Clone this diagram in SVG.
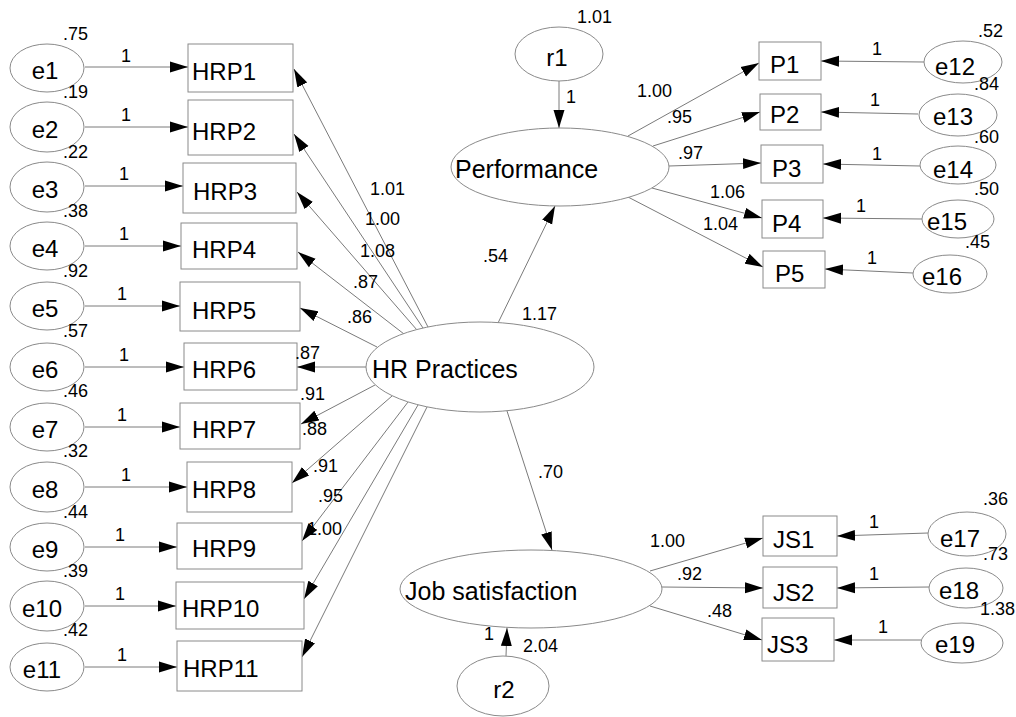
<svg xmlns="http://www.w3.org/2000/svg" width="1016" height="717" viewBox="0 0 1016 717">
<style>
.nd{fill:#fff;stroke:#8a8a8a;stroke-width:1}
.t{font-family:"Liberation Sans",Arial,sans-serif;font-size:24px;fill:#000}
.tb{font-family:"Liberation Sans",Arial,sans-serif;font-size:25px;fill:#000}
.n{font-family:"Liberation Sans",Arial,sans-serif;font-size:18px;fill:#000}
.m{text-anchor:middle}
.c line{stroke:#7a7a7a;stroke-width:1;marker-end:url(#ah)}
</style>
<defs>
<marker id="ah" markerWidth="20" markerHeight="12" refX="18" refY="6" orient="auto" markerUnits="userSpaceOnUse">
<path d="M0,0.5 L18,6 L0,11.5 z" fill="#000"/>
</marker>
</defs>
<rect width="1016" height="717" fill="#fff"/>
<g id="connectors" class="c">
<line x1="85" y1="67" x2="188" y2="67"/>
<line x1="85" y1="127" x2="188" y2="127"/>
<line x1="85" y1="186" x2="183" y2="186"/>
<line x1="85" y1="246" x2="181" y2="246"/>
<line x1="85" y1="306" x2="180" y2="306"/>
<line x1="85" y1="367" x2="184" y2="367"/>
<line x1="85" y1="427" x2="180" y2="427"/>
<line x1="85" y1="487" x2="187" y2="487"/>
<line x1="85" y1="547" x2="177" y2="547"/>
<line x1="85" y1="606" x2="176" y2="606"/>
<line x1="85" y1="667" x2="177" y2="667"/>
<line x1="428" y1="327" x2="294" y2="69"/>
<line x1="423" y1="328" x2="294" y2="134"/>
<line x1="417" y1="330" x2="297" y2="192"/>
<line x1="404" y1="334" x2="298" y2="252"/>
<line x1="377" y1="347" x2="300" y2="308"/>
<line x1="366" y1="367" x2="297" y2="367"/>
<line x1="375" y1="385" x2="301" y2="424"/>
<line x1="392" y1="396" x2="292" y2="483"/>
<line x1="408" y1="402" x2="302" y2="541"/>
<line x1="418" y1="405" x2="304" y2="599"/>
<line x1="427" y1="407" x2="302" y2="657"/>
<line x1="498" y1="323" x2="555" y2="206"/>
<line x1="507" y1="411" x2="552" y2="550"/>
<line x1="559" y1="81" x2="559" y2="128"/>
<line x1="628" y1="136" x2="759" y2="63"/>
<line x1="653" y1="146" x2="760" y2="112"/>
<line x1="669" y1="166" x2="761" y2="163"/>
<line x1="652" y1="188" x2="762" y2="218"/>
<line x1="628" y1="197" x2="763" y2="267"/>
<line x1="924" y1="62" x2="821" y2="61"/>
<line x1="918" y1="114" x2="821" y2="112"/>
<line x1="920" y1="166" x2="823" y2="164"/>
<line x1="922" y1="219" x2="823" y2="218"/>
<line x1="913" y1="273" x2="825" y2="269"/>
<line x1="506" y1="656" x2="507" y2="628"/>
<line x1="650" y1="571" x2="763" y2="538"/>
<line x1="662" y1="587" x2="763" y2="588"/>
<line x1="650" y1="606" x2="762" y2="640"/>
<line x1="928" y1="533" x2="837" y2="536"/>
<line x1="929" y1="587" x2="837" y2="588"/>
<line x1="921" y1="640" x2="834" y2="640"/>
</g>
<g id="e1"><ellipse class="nd" cx="47" cy="68" rx="37" ry="24"/><text class="t m" x="45" y="79">e1</text></g>
<g id="e2"><ellipse class="nd" cx="47" cy="127" rx="37" ry="25"/><text class="t m" x="45" y="138">e2</text></g>
<g id="e3"><ellipse class="nd" cx="47" cy="187" rx="37" ry="25"/><text class="t m" x="45" y="198">e3</text></g>
<g id="e4"><ellipse class="nd" cx="47" cy="246" rx="37" ry="24"/><text class="t m" x="45" y="257">e4</text></g>
<g id="e5"><ellipse class="nd" cx="47" cy="306" rx="37" ry="24"/><text class="t m" x="45" y="317">e5</text></g>
<g id="e6"><ellipse class="nd" cx="47" cy="367" rx="37" ry="24"/><text class="t m" x="45" y="378">e6</text></g>
<g id="e7"><ellipse class="nd" cx="47" cy="427" rx="37" ry="24"/><text class="t m" x="45" y="438">e7</text></g>
<g id="e8"><ellipse class="nd" cx="47" cy="487" rx="37" ry="25"/><text class="t m" x="45" y="498">e8</text></g>
<g id="e9"><ellipse class="nd" cx="47" cy="547" rx="37" ry="24"/><text class="t m" x="45" y="558">e9</text></g>
<g id="e10"><ellipse class="nd" cx="47" cy="606" rx="37" ry="25"/><text class="t m" x="42" y="617">e10</text></g>
<g id="e11"><ellipse class="nd" cx="47" cy="667" rx="37" ry="24"/><text class="t m" x="42" y="678">e11</text></g>
<g id="HRP1"><rect class="nd" x="188" y="44" width="105" height="48"/><text class="t" x="192" y="80">HRP1</text></g>
<g id="HRP2"><rect class="nd" x="188" y="100" width="105" height="55"/><text class="t" x="192" y="140">HRP2</text></g>
<g id="HRP3"><rect class="nd" x="183" y="163" width="113" height="50"/><text class="t" x="193" y="200">HRP3</text></g>
<g id="HRP4"><rect class="nd" x="181" y="223" width="116" height="46"/><text class="t" x="192" y="258">HRP4</text></g>
<g id="HRP5"><rect class="nd" x="180" y="282" width="120" height="49"/><text class="t" x="192" y="319">HRP5</text></g>
<g id="HRP6"><rect class="nd" x="184" y="343" width="113" height="47"/><text class="t" x="192" y="378">HRP6</text></g>
<g id="HRP7"><rect class="nd" x="180" y="403" width="120" height="46"/><text class="t" x="192" y="438">HRP7</text></g>
<g id="HRP8"><rect class="nd" x="187" y="462" width="105" height="50"/><text class="t" x="192" y="498">HRP8</text></g>
<g id="HRP9"><rect class="nd" x="177" y="523" width="125" height="46"/><text class="t" x="192" y="557">HRP9</text></g>
<g id="HRP10"><rect class="nd" x="176" y="582" width="128" height="47"/><text class="t" x="182" y="617">HRP10</text></g>
<g id="HRP11"><rect class="nd" x="177" y="641" width="125" height="50"/><text class="t" x="183" y="677">HRP11</text></g>
<g id="HRPractices"><ellipse class="nd" cx="480" cy="367" rx="114" ry="45"/><text class="tb" x="372" y="378">HR Practices</text></g>
<g id="r1"><ellipse class="nd" cx="559" cy="54" rx="44" ry="27"/><text class="t m" x="557" y="66">r1</text></g>
<g id="Performance"><ellipse class="nd" cx="560" cy="167" rx="109" ry="39"/><text class="tb" x="455" y="178">Performance</text></g>
<g id="JobSatisfaction"><ellipse class="nd" cx="531" cy="589" rx="131" ry="39"/><text class="tb" x="405" y="600">Job satisfaction</text></g>
<g id="r2"><ellipse class="nd" cx="503" cy="686" rx="46" ry="30"/><text class="t m" x="504" y="698">r2</text></g>
<g id="P1"><rect class="nd" x="759" y="42" width="62" height="38"/><text class="t" x="770" y="73">P1</text></g>
<g id="P2"><rect class="nd" x="760" y="94" width="61" height="36"/><text class="t" x="770" y="123">P2</text></g>
<g id="P3"><rect class="nd" x="761" y="145" width="62" height="38"/><text class="t" x="772" y="177">P3</text></g>
<g id="P4"><rect class="nd" x="762" y="200" width="61" height="38"/><text class="t" x="772" y="232">P4</text></g>
<g id="P5"><rect class="nd" x="763" y="251" width="62" height="37"/><text class="t" x="775" y="282">P5</text></g>
<g id="e12"><ellipse class="nd" cx="963" cy="62" rx="39" ry="21"/><text class="t m" x="955" y="75">e12</text></g>
<g id="e13"><ellipse class="nd" cx="958" cy="115" rx="39" ry="21"/><text class="t m" x="953" y="125">e13</text></g>
<g id="e14"><ellipse class="nd" cx="958" cy="165" rx="38" ry="19"/><text class="t m" x="953" y="178">e14</text></g>
<g id="e15"><ellipse class="nd" cx="958" cy="219" rx="36" ry="19"/><text class="t m" x="947" y="230">e15</text></g>
<g id="e16"><ellipse class="nd" cx="950" cy="274" rx="37" ry="19"/><text class="t m" x="942" y="285">e16</text></g>
<g id="JS1"><rect class="nd" x="763" y="516" width="74" height="40"/><text class="t" x="773" y="548">JS1</text></g>
<g id="JS2"><rect class="nd" x="763" y="567" width="74" height="41"/><text class="t" x="773" y="601">JS2</text></g>
<g id="JS3"><rect class="nd" x="762" y="618" width="72" height="43"/><text class="t" x="767" y="653">JS3</text></g>
<g id="e17"><ellipse class="nd" cx="967" cy="534" rx="39" ry="22"/><text class="t m" x="960" y="547">e17</text></g>
<g id="e18"><ellipse class="nd" cx="966" cy="588" rx="37" ry="20"/><text class="t m" x="959" y="599">e18</text></g>
<g id="e19"><ellipse class="nd" cx="962" cy="643" rx="41" ry="20"/><text class="t m" x="955" y="653">e19</text></g>
<g id="labels">
<text class="n" x="63" y="40">.75</text>
<text class="n" x="63" y="98">.19</text>
<text class="n" x="63" y="158">.22</text>
<text class="n" x="63" y="217">.38</text>
<text class="n" x="63" y="277">.92</text>
<text class="n" x="63" y="337">.57</text>
<text class="n" x="63" y="397">.46</text>
<text class="n" x="63" y="457">.32</text>
<text class="n" x="63" y="518">.44</text>
<text class="n" x="63" y="577">.39</text>
<text class="n" x="63" y="636">.42</text>
<text class="n m" x="126" y="62">1</text>
<text class="n m" x="126" y="121">1</text>
<text class="n m" x="124" y="180">1</text>
<text class="n m" x="124" y="240">1</text>
<text class="n m" x="122" y="300">1</text>
<text class="n m" x="124" y="361">1</text>
<text class="n m" x="122" y="421">1</text>
<text class="n m" x="126" y="481">1</text>
<text class="n m" x="120" y="541">1</text>
<text class="n m" x="120" y="600">1</text>
<text class="n m" x="122" y="661">1</text>
<text class="n" x="370" y="195">1.01</text>
<text class="n" x="365" y="225">1.00</text>
<text class="n" x="360" y="257">1.08</text>
<text class="n" x="353" y="288">.87</text>
<text class="n" x="347" y="323">.86</text>
<text class="n" x="295" y="359">.87</text>
<text class="n" x="300" y="400">.91</text>
<text class="n" x="302" y="435">.88</text>
<text class="n" x="313" y="472">.91</text>
<text class="n" x="318" y="502">.95</text>
<text class="n" x="307" y="535">1.00</text>
<text class="n" x="483" y="262">.54</text>
<text class="n" x="522" y="320">1.17</text>
<text class="n" x="538" y="478">.70</text>
<text class="n" x="577" y="23">1.01</text>
<text class="n" x="566" y="103">1</text>
<text class="n" x="637" y="97">1.00</text>
<text class="n" x="667" y="123">.95</text>
<text class="n" x="678" y="159">.97</text>
<text class="n" x="710" y="198">1.06</text>
<text class="n" x="703" y="230">1.04</text>
<text class="n" x="978" y="37">.52</text>
<text class="n" x="974" y="90">.84</text>
<text class="n" x="974" y="143">.60</text>
<text class="n" x="974" y="195">.50</text>
<text class="n" x="965" y="248">.45</text>
<text class="n m" x="877" y="55">1</text>
<text class="n m" x="875" y="106">1</text>
<text class="n m" x="877" y="160">1</text>
<text class="n m" x="861" y="212">1</text>
<text class="n m" x="872" y="264">1</text>
<text class="n" x="650" y="547">1.00</text>
<text class="n" x="677" y="580">.92</text>
<text class="n" x="707" y="617">.48</text>
<text class="n" x="983" y="505">.36</text>
<text class="n" x="983" y="560">.73</text>
<text class="n" x="980" y="615">1.38</text>
<text class="n m" x="874" y="528">1</text>
<text class="n m" x="874" y="580">1</text>
<text class="n m" x="883" y="633">1</text>
<text class="n" x="484" y="640">1</text>
<text class="n" x="523" y="652">2.04</text>
</g>
</svg>
